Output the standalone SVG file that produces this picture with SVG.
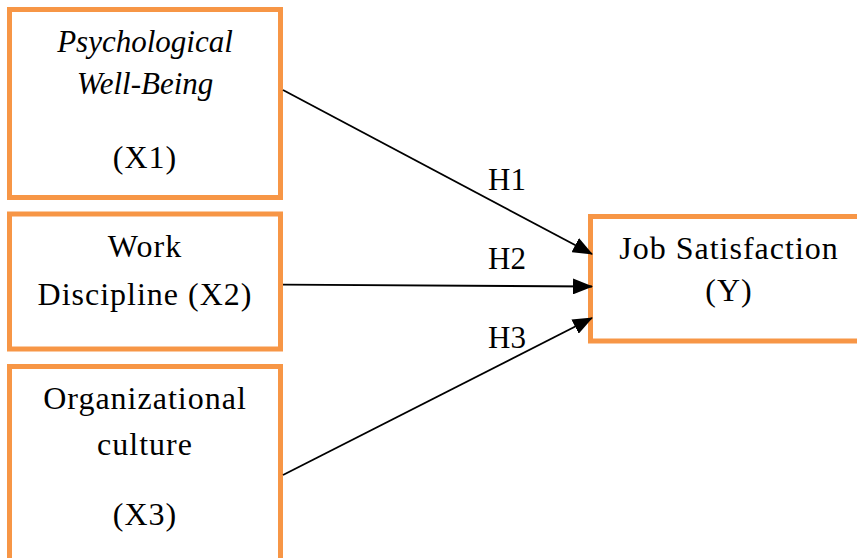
<svg xmlns="http://www.w3.org/2000/svg" width="857" height="558" viewBox="0 0 857 558">
<style>
.box{fill:#fff;stroke:#F79646;stroke-width:5}
.t{font-family:"Liberation Serif","Times New Roman",serif;font-size:32px;letter-spacing:1px;fill:#000;text-anchor:middle}
.i{font-style:italic;font-size:31px;letter-spacing:0}
.lbl{font-family:"Liberation Serif","Times New Roman",serif;font-size:31px;fill:#000}
.c{stroke:#000;stroke-width:1.8;fill:none;marker-end:url(#ah)}
</style>
<defs>
<marker id="ah" markerUnits="userSpaceOnUse" markerWidth="20" markerHeight="16" refX="19" refY="8" orient="auto" viewBox="0 0 20 16">
<path d="M0,0 L20,8 L0,16 Z" fill="#000"/>
</marker>
</defs>
<g id="x1">
<rect class="box" x="9.5" y="9.5" width="271" height="188"/>
<text class="t i" x="145" y="52">Psychological</text>
<text class="t i" x="145" y="94">Well-Being</text>
<text class="t" x="145" y="168">(X1)</text>
</g>
<g id="x2">
<rect class="box" x="9.5" y="214" width="271" height="135"/>
<text class="t" x="145" y="257">Work</text>
<text class="t" x="145" y="305">Discipline (X2)</text>
</g>
<g id="x3">
<rect class="box" x="9.5" y="366.5" width="271" height="200"/>
<text class="t" x="145" y="409">Organizational</text>
<text class="t" x="145" y="455">culture</text>
<text class="t" x="145" y="525">(X3)</text>
</g>
<g id="y">
<rect class="box" x="590.5" y="216.5" width="280" height="124.5"/>
<text class="t" x="729" y="259">Job Satisfaction</text>
<text class="t" x="729" y="301">(Y)</text>
</g>
<g id="connectors">
<line class="c" x1="283" y1="90" x2="592" y2="254"/>
<line class="c" x1="283" y1="284.7" x2="592" y2="286.5"/>
<line class="c" x1="283" y1="475" x2="592" y2="318"/>
<text class="lbl" x="488" y="190">H1</text>
<text class="lbl" x="488" y="269">H2</text>
<text class="lbl" x="488" y="348">H3</text>
</g>
</svg>
